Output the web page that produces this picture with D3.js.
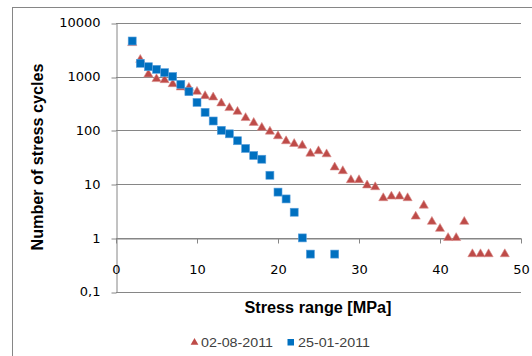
<!DOCTYPE html>
<html>
<head>
<meta charset="utf-8">
<script src="https://cdn.jsdelivr.net/npm/d3@7"></script>
<style>
  body { margin: 0; background: #fff; }
  svg { display: block; }
</style>
</head>
<body>
<div id="chart"></div>
<script>
// stress range [MPa] and number of cycles
const augRange = [2,3,4,5,6,7,8,9,10,11,12,13,14,15,16,17,18,19,20,21,22,23,24,25,26,27,28,29,30,31,32,33,34,35,36,37,38,39,40,41,42,43,44,45,46,48];
const augCycles = [4200,2050,1100,900,860,725,630,620,522,434,410,318,260,222,170,138,112,95,78,63,56,52,37,41,36,20.5,17.5,11.9,11.9,9.5,8.8,5.5,5.9,5.9,5.5,2.5,4,2,1.48,1,1,2,0.5,0.5,0.5,0.5];

const janRange = [2,3,4,5,6,7,8,9,10,11,12,13,14,15,16,17,18,19,20,21,22,23,24,27];
const janCycles = [4570,1760,1520,1360,1180,1000,716,522,330,216,149,100,86,64,46,34,29,14.6,7.1,5.3,3,1,0.5,0.5];

const yTicks = [0.1, 1, 10, 100, 1000, 10000];
const xTicks = [0, 10, 20, 30, 40, 50];
const seriesNames = ['02-08-2011', '25-01-2011'];

const W = 532, H = 356;
const gridColor = '#868686';
const red = '#BE4B48';
const blue = '#0070C0';

const svg = d3.select('#chart').append('svg')
  .attr('width', W)
  .attr('height', H);

// outer chart frame (right and bottom run off the picture)
svg.append('rect')
  .attr('x', 12.5).attr('y', 7.5)
  .attr('width', 560).attr('height', 380)
  .attr('fill', 'none')
  .attr('stroke', gridColor);

const x = d3.scaleLinear().domain([0, 50]).range([116, 521]);
const y = d3.scaleLog().domain([0.1, 10000]).range([291.7, 22.7]);

// horizontal gridlines
svg.append('g')
  .selectAll('line')
  .data(yTicks)
  .enter().append('line')
  .attr('x1', 116).attr('x2', 521)
  .attr('y1', d => Math.round(y(d)) + 0.5)
  .attr('y2', d => Math.round(y(d)) + 0.5)
  .attr('stroke', gridColor);

// y axis
const yAxis = svg.append('g')
  .attr('transform', 'translate(116.5,0)')
  .call(d3.axisLeft(y)
    .tickValues(yTicks)
    .tickFormat(d => d < 1 ? '0,1' : String(d))
    .tickSizeInner(5)
    .tickSizeOuter(0)
    .tickPadding(11));
yAxis.selectAll('.tick line').attr('stroke', gridColor)
  .attr('transform', d => `translate(0,${Math.round(y(d)) + 0.5 - y(d)})`);
yAxis.select('.domain').attr('stroke', gridColor);
yAxis.selectAll('text')
  .style('font-family', 'DejaVu Sans')
  .style('font-size', '13px')
  .attr('fill', '#000');

// x axis crosses at 1
const xAxis = svg.append('g')
  .attr('transform', `translate(0,${Math.round(y(1)) + 0.5})`)
  .call(d3.axisBottom(x)
    .tickValues(xTicks)
    .tickSizeInner(5)
    .tickSizeOuter(0)
    .tickPadding(21));
xAxis.selectAll('.tick line').attr('stroke', gridColor);
xAxis.select('.domain').attr('stroke', gridColor);
xAxis.selectAll('text')
  .style('font-family', 'DejaVu Sans')
  .style('font-size', '13px')
  .attr('fill', '#000');

// series
const triangle = d3.symbol().type(d3.symbolTriangle).size(36);

const augData = augRange.map((r, i) => ({r, n: augCycles[i]}));
const janData = janRange.map((r, i) => ({r, n: janCycles[i]}));

svg.append('g')
  .selectAll('path')
  .data(augData)
  .enter().append('path')
  .attr('d', triangle)
  .attr('transform', d => `translate(${x(d.r)},${y(d.n)})`)
  .attr('fill', red)
  .attr('stroke', '#d98a88')
  .attr('stroke-width', 0.6);

svg.append('g')
  .selectAll('rect')
  .data(janData)
  .enter().append('rect')
  .attr('x', d => x(d.r) - 4)
  .attr('y', d => y(d.n) - 4)
  .attr('width', 8)
  .attr('height', 8)
  .attr('fill', blue)
  .attr('stroke', '#5aa0dc')
  .attr('stroke-width', 0.6);

// axis titles
svg.append('text')
  .attr('x', 318).attr('y', 313)
  .attr('text-anchor', 'middle')
  .attr('textLength', 147)
  .attr('lengthAdjust', 'spacingAndGlyphs')
  .style('font-family', 'Liberation Sans, Arial, sans-serif')
  .style('font-weight', 'bold')
  .style('font-size', '16px')
  .text('Stress range [MPa]');

svg.append('text')
  .attr('transform', 'translate(43,157) rotate(-90)')
  .attr('text-anchor', 'middle')
  .attr('textLength', 187)
  .attr('lengthAdjust', 'spacingAndGlyphs')
  .style('font-family', 'Liberation Sans, Arial, sans-serif')
  .style('font-weight', 'bold')
  .style('font-size', '17px')
  .text('Number of stress cycles');

// legend
const legend = svg.append('g');
legend.append('path')
  .attr('d', d3.symbol().type(d3.symbolTriangle).size(26))
  .attr('transform', 'translate(194.5,342.5)')
  .attr('fill', red);
legend.append('text')
  .attr('x', 201).attr('y', 347)
  .attr('textLength', 72)
  .attr('lengthAdjust', 'spacingAndGlyphs')
  .style('font-family', 'Liberation Sans, Arial, sans-serif')
  .style('font-size', '13px')
  .attr('fill', '#404040')
  .text(seriesNames[0]);
legend.append('rect')
  .attr('x', 287.5).attr('y', 339)
  .attr('width', 6.5).attr('height', 6.5)
  .attr('fill', blue);
legend.append('text')
  .attr('x', 298).attr('y', 347)
  .attr('textLength', 72)
  .attr('lengthAdjust', 'spacingAndGlyphs')
  .style('font-family', 'Liberation Sans, Arial, sans-serif')
  .style('font-size', '13px')
  .attr('fill', '#404040')
  .text(seriesNames[1]);
</script>
</body>
</html>
